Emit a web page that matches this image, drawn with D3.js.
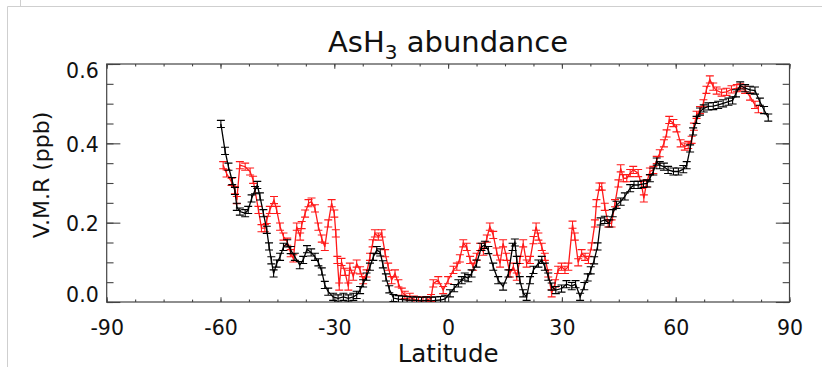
<!DOCTYPE html>
<meta charset="utf-8">
<style>

body {
  margin: 0;
  background: #fff;
}

svg text {
  font-family: "DejaVu Sans", sans-serif;
  fill: #111;
}

.frame {
  fill: none;
  stroke: #444;
  stroke-width: 1.2px;
}

.axis .domain {
  display: none;
}

.axis line {
  stroke: #444;
  stroke-width: 1.1px;
}

.page-edge {
  stroke: #cfcfcf;
  stroke-width: 1px;
}

</style>
<svg width="822" height="367"></svg>
<script src="https://d3js.org/d3.v7.min.js"></script>
<script>

// [latitude, V.M.R (ppb)]
var blackData = [
  [-59.9,0.449],[-58.8,0.381],[-57.9,0.341],[-56.9,0.305],[-56.2,0.280],[-55.7,0.240],[-54.9,0.228],
  [-53.5,0.224],[-52.7,0.232],[-51.8,0.261],[-50.9,0.282],[-50.3,0.295],[-49.6,0.266],[-48.7,0.224],
  [-47.8,0.182],[-47.2,0.140],[-46.6,0.105],[-46.0,0.072],[-45.2,0.097],[-44.3,0.114],[-43.4,0.139],
  [-42.4,0.148],[-41.5,0.131],[-40.4,0.114],[-39.1,0.093],[-38.2,0.106],[-37.2,0.133],[-36.1,0.125],
  [-35.1,0.114],[-34.2,0.100],[-33.3,0.077],[-32.5,0.043],[-31.6,0.026],[-30.3,0.013],[-29.0,0.009],
  [-27.6,0.013],[-26.3,0.009],[-25.0,0.013],[-24.1,0.018],[-23.2,0.030],[-22.4,0.047],[-21.5,0.064],
  [-20.6,0.089],[-19.7,0.114],[-18.8,0.131],[-17.9,0.125],[-17.2,0.095],[-16.4,0.062],[-15.5,0.032],
  [-14.4,0.010],[-13.1,0.007],[-12.0,0.006],[-10.8,0.005],[-9.5,0.004],[-8.3,0.004],[-7.0,0.003],
  [-5.8,0.004],[-4.5,0.003],[-3.3,0.004],[-2.0,0.005],[-0.8,0.008],[0.5,0.022],[1.6,0.035],
  [2.7,0.047],[3.6,0.055],[4.4,0.064],[5.3,0.060],[6.2,0.072],[7.5,0.097],[8.8,0.139],[9.7,0.144],
  [10.6,0.131],[11.9,0.089],[13.2,0.055],[14.5,0.039],[15.9,0.072],[17.0,0.139],[17.6,0.150],
  [18.1,0.106],[18.9,0.055],[19.8,0.022],[20.7,0.013],[21.6,0.055],[22.5,0.081],[23.8,0.097],
  [24.7,0.106],[25.5,0.089],[26.4,0.064],[27.3,0.039],[28.4,0.030],[29.9,0.034],[31.2,0.045],
  [32.6,0.040],[33.6,0.045],[34.8,0.013],[35.9,0.040],[36.8,0.062],[37.6,0.080],[38.5,0.105],
  [39.4,0.140],[40.2,0.203],[41.3,0.207],[42.5,0.198],[43.4,0.224],[44.4,0.245],[45.5,0.253],
  [46.6,0.266],[48.0,0.287],[49.0,0.295],[50.1,0.295],[51.5,0.298],[52.5,0.299],[53.2,0.312],
  [54.1,0.329],[55.0,0.354],[55.8,0.345],[56.9,0.341],[58.0,0.333],[59.4,0.329],[60.7,0.329],
  [62.0,0.335],[62.9,0.345],[63.8,0.387],[64.6,0.430],[65.5,0.459],[66.4,0.480],[67.4,0.488],
  [68.6,0.493],[69.9,0.494],[71.2,0.497],[72.5,0.501],[73.9,0.505],[75.0,0.508],[75.9,0.526],
  [77.0,0.546],[78.3,0.539],[79.6,0.535],[80.9,0.533],[82.2,0.505],[83.3,0.484],[84.4,0.465]
];

var redData = [
  [-59.3,0.345],[-58.4,0.324],[-57.1,0.303],[-56.2,0.282],[-55.7,0.257],[-54.9,0.345],[-53.5,0.341],
  [-52.2,0.329],[-51.4,0.308],[-50.0,0.232],[-49.2,0.186],[-48.3,0.186],[-47.8,0.207],[-47.0,0.232],
  [-45.9,0.257],[-45.2,0.232],[-44.3,0.190],[-43.4,0.165],[-42.4,0.152],[-41.5,0.123],[-40.8,0.110],
  [-39.9,0.190],[-39.0,0.165],[-38.6,0.194],[-37.7,0.223],[-36.8,0.249],[-36.0,0.253],[-35.1,0.236],
  [-34.2,0.190],[-33.3,0.160],[-32.5,0.139],[-31.6,0.198],[-30.7,0.249],[-30.0,0.223],[-29.6,0.173],
  [-29.2,0.106],[-28.7,0.039],[-28.1,0.101],[-27.2,0.076],[-26.3,0.039],[-25.9,0.089],[-25.0,0.064],
  [-24.1,0.097],[-23.2,0.080],[-22.4,0.055],[-21.5,0.072],[-20.6,0.114],[-19.9,0.148],[-19.3,0.173],
  [-18.4,0.165],[-17.5,0.173],[-16.6,0.123],[-15.8,0.089],[-14.9,0.055],[-14.0,0.072],[-13.1,0.047],
  [-12.2,0.026],[-11.4,0.018],[-10.1,0.013],[-9.0,0.006],[-7.8,0.004],[-6.6,0.003],[-5.5,0.005],
  [-4.5,0.010],[-3.9,0.047],[-2.6,0.055],[-1.3,0.030],[0.0,0.055],[1.4,0.081],[2.3,0.089],
  [3.1,0.110],[4.0,0.148],[4.9,0.139],[5.8,0.106],[6.6,0.089],[7.5,0.114],[8.4,0.139],[9.3,0.127],
  [10.2,0.160],[11.0,0.190],[11.9,0.169],[12.8,0.127],[13.7,0.097],[14.5,0.148],[15.4,0.114],
  [16.3,0.072],[17.2,0.089],[18.1,0.064],[18.9,0.106],[19.8,0.148],[20.7,0.097],[21.6,0.106],
  [22.5,0.156],[23.2,0.190],[23.8,0.165],[24.7,0.139],[25.5,0.114],[26.4,0.072],[27.3,0.022],
  [28.2,0.047],[29.0,0.081],[29.9,0.089],[30.8,0.081],[31.7,0.089],[32.8,0.195],[33.4,0.165],
  [34.3,0.100],[35.2,0.123],[36.1,0.114],[37.0,0.106],[37.8,0.140],[38.7,0.198],[39.1,0.249],
  [39.9,0.291],[40.5,0.291],[41.3,0.240],[42.2,0.198],[43.1,0.198],[44.0,0.249],[44.9,0.299],
  [45.5,0.337],[46.2,0.312],[47.1,0.312],[48.0,0.325],[48.8,0.333],[50.1,0.325],[51.0,0.295],
  [51.6,0.261],[52.3,0.299],[53.2,0.329],[54.1,0.333],[55.0,0.358],[55.8,0.375],[56.9,0.400],
  [57.6,0.425],[58.3,0.459],[59.4,0.451],[60.2,0.438],[61.3,0.400],[62.4,0.392],[63.3,0.396],
  [64.2,0.409],[64.8,0.442],[65.5,0.472],[66.4,0.484],[67.3,0.501],[68.1,0.535],[69.0,0.561],
  [69.9,0.543],[70.8,0.533],[72.1,0.528],[73.4,0.530],[74.7,0.536],[76.1,0.539],[77.0,0.541],
  [78.3,0.535],[79.6,0.518],[80.9,0.497],[81.8,0.486]
];

var xTicks = [-90, -60, -30, 0, 30, 60, 90];
var yTicks = [0.0, 0.2, 0.4, 0.6];
var errHalf = 0.009;   // error bar half height (ppb)

var svg = d3.select("svg"),
    margin = {top: 64, right: 32.5, bottom: 65, left: 106.7},
    width = +svg.attr("width") - margin.left - margin.right,
    height = +svg.attr("height") - margin.top - margin.bottom;

// light page edges from the screenshot
svg.append("line").attr("class", "page-edge").attr("x1", 7.5).attr("x2", 822).attr("y1", 6.5).attr("y2", 6.5);
svg.append("line").attr("class", "page-edge").attr("x1", 7.5).attr("x2", 7.5).attr("y1", 6.5).attr("y2", 367);
svg.append("line").attr("class", "page-edge").attr("x1", 20.5).attr("x2", 20.5).attr("y1", 0).attr("y2", 6.5);

var x = d3.scaleLinear().domain([-90, 90]).range([0, width]),
    y = d3.scaleLinear().domain([0, 0.6]).range([height, 0]);

var g = svg.append("g")
    .attr("transform", "translate(" + margin.left + "," + margin.top + ")");

g.append("clipPath").attr("id", "plot-clip")
  .append("rect").attr("width", width).attr("height", height);

var xMinor = d3.range(-90, 90.01, 7.5),
    yMinor = d3.range(0, 0.601, 0.05);

var xLen = 0.02 * height, yLen = 0.02 * width;

// minor ticks on all four sides
g.append("g").attr("class", "axis")
    .attr("transform", "translate(0," + height + ")")
    .call(d3.axisBottom(x).tickValues(xMinor).tickSize(-xLen / 2).tickFormat(""));
g.append("g").attr("class", "axis")
    .call(d3.axisTop(x).tickValues(xMinor).tickSize(-xLen / 2).tickFormat(""));
g.append("g").attr("class", "axis")
    .call(d3.axisLeft(y).tickValues(yMinor).tickSize(-yLen / 2).tickFormat(""));
g.append("g").attr("class", "axis")
    .attr("transform", "translate(" + width + ",0)")
    .call(d3.axisRight(y).tickValues(yMinor).tickSize(-yLen / 2).tickFormat(""));

// major ticks
g.append("g").attr("class", "axis axis--x")
    .attr("transform", "translate(0," + height + ")")
    .call(d3.axisBottom(x).tickValues(xTicks).tickSize(-xLen).tickPadding(18)
      .tickFormat(function(d) { return String(d); }))
    .selectAll("text")
    .attr("font-size", 20.5);
g.append("g").attr("class", "axis")
    .call(d3.axisTop(x).tickValues(xTicks).tickSize(-xLen).tickFormat(""));
g.append("g").attr("class", "axis")
    .attr("transform", "translate(" + width + ",0)")
    .call(d3.axisRight(y).tickValues(yTicks).tickSize(-yLen).tickFormat(""));

var yAxis = g.append("g").attr("class", "axis axis--y")
    .call(d3.axisLeft(y).tickValues(yTicks).tickSize(-yLen).tickPadding(8).tickFormat(d3.format(".1f")));
yAxis.selectAll("text")
    .attr("font-size", 20.5)
    .attr("dy", function(d) {
      if (d === 0.6) return "0.68em";
      if (d === 0) return "-0.04em";
      return "0.38em";
    });

g.append("rect").attr("class", "frame")
    .attr("width", width)
    .attr("height", height);

// series
var line = d3.line()
    .x(function(d) { return x(d[0]); })
    .y(function(d) { return y(d[1]); });

var plot = g.append("g").attr("clip-path", "url(#plot-clip)");

function drawSeries(data, color) {
  var s = plot.append("g");
  s.append("path")
      .datum(data)
      .attr("fill", "none")
      .attr("stroke", color)
      .attr("stroke-width", 1.3)
      .attr("d", line);
  s.selectAll(".err")
    .data(data)
    .enter().append("path")
      .attr("class", "err")
      .attr("fill", "none")
      .attr("stroke", color)
      .attr("stroke-width", 1.1)
      .attr("d", function(d) {
        var cx = x(d[0]), y0 = y(d[1] - errHalf), y1 = y(d[1] + errHalf);
        return "M" + cx + "," + y0 + "V" + y1 +
               "M" + (cx - 4) + "," + y0 + "H" + (cx + 4) +
               "M" + (cx - 4) + "," + y1 + "H" + (cx + 4);
      });
}

drawSeries(redData, "#ff1a1a");
drawSeries(blackData, "#000");

// title and axis titles
var title = svg.append("text")
    .attr("x", 448)
    .attr("y", 52)
    .attr("text-anchor", "middle")
    .attr("font-size", 29);
title.append("tspan").text("AsH");
title.append("tspan").attr("font-size", 20).attr("dy", 7).text("3");
title.append("tspan").attr("dy", -7).text(" abundance");

svg.append("text")
    .attr("x", margin.left + width / 2)
    .attr("y", 362)
    .attr("text-anchor", "middle")
    .attr("font-size", 24.5)
    .text("Latitude");

svg.append("text")
    .attr("transform", "translate(49,175) rotate(-90)")
    .attr("text-anchor", "middle")
    .attr("font-size", 22)
    .text("V.M.R (ppb)");

</script>
